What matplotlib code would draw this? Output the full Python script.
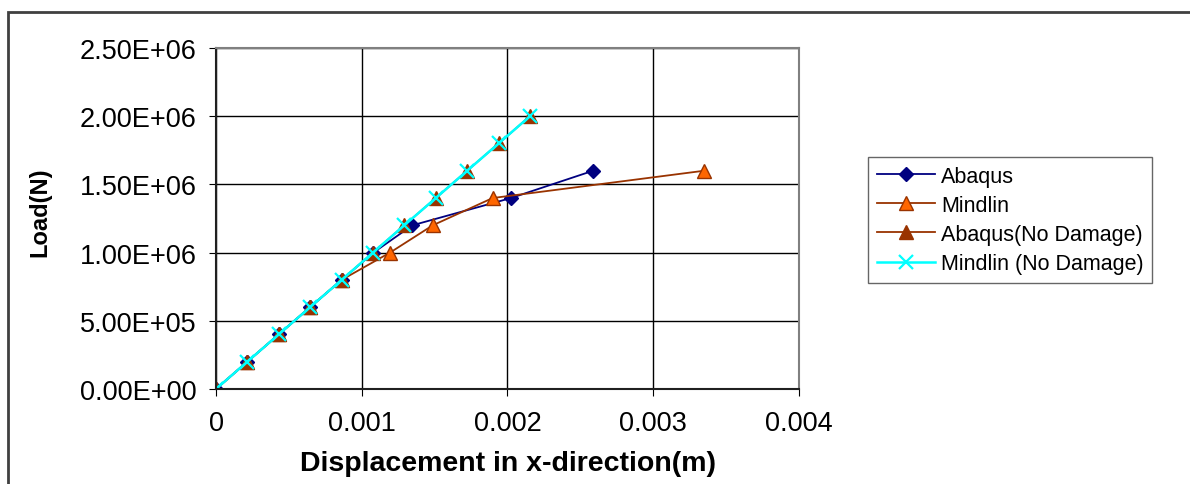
import matplotlib.pyplot as plt
from matplotlib.patches import Rectangle
from matplotlib.ticker import FuncFormatter

plt.rcParams['font.family'] = ['Liberation Sans', 'DejaVu Sans']

# load steps (N)
load = [0, 2e5, 4e5, 6e5, 8e5, 1e6, 1.2e6, 1.4e6, 1.6e6, 1.8e6, 2e6]
load_dmg = [0, 2e5, 4e5, 6e5, 8e5, 1e6, 1.2e6, 1.4e6, 1.6e6]

# displacements (m)
abaqus = [0, 0.000215, 0.00043, 0.000646, 0.000862, 0.00108, 0.001347, 0.002024, 0.002587]
mindlin = [0, 0.000215, 0.00043, 0.000646, 0.000862, 0.001194, 0.001487, 0.001898, 0.003348]
abaqus_nd = [0, 0.000215, 0.00043, 0.000646, 0.000862, 0.001077, 0.001292, 0.001508, 0.001723, 0.001939, 0.002154]
mindlin_nd = [0, 0.000215, 0.00043, 0.000646, 0.000862, 0.001077, 0.001292, 0.001508, 0.001723, 0.001939, 0.002154]

fig = plt.figure(figsize=(11.9, 4.85), dpi=100)
# outer chart frame
fig.patches.append(Rectangle((8/1190, -0.2), 1.2, 1.2 - 13/485, transform=fig.transFigure,
                             fill=False, edgecolor='#404040', linewidth=2))
ax = fig.add_axes([216/1190, 1 - 390/485, (799-216)/1190, (390-49)/485])

ax.plot(abaqus, load_dmg, color='#000080', marker='D', markersize=7, lw=1.3, label='Abaqus')
ax.plot(mindlin, load_dmg, color='#993300', marker='^', markersize=10, mfc='#FF6600', mec='#993300',
        lw=1.3, label='Mindlin')
ax.plot(abaqus_nd, load, color='#993300', marker='^', markersize=10, mfc='#993300', mec='#993300',
        lw=1.3, label='Abaqus(No Damage)')
ax.plot(mindlin_nd, load, color='#00FFFF', marker='x', markersize=10, mew=1.6, lw=1.8,
        label='Mindlin (No Damage)')

ax.set_xlim(0, 0.004)
ax.set_ylim(0, 2.5e6)
ax.set_xticks([0, 0.001, 0.002, 0.003, 0.004])
ax.set_xticklabels(['0', '0.001', '0.002', '0.003', '0.004'])
ax.set_yticks([0, 5e5, 1e6, 1.5e6, 2e6, 2.5e6])
ax.yaxis.set_major_formatter(FuncFormatter(lambda v, p: '%.2E' % v))
ax.tick_params(labelsize=19.5, direction='out', length=5, color='black')
ax.tick_params(axis='y', pad=9)
ax.tick_params(axis='x', pad=10)
ax.grid(True, color='black', lw=1)
ax.set_axisbelow(True)
for s in ['top', 'right']:
    ax.spines[s].set_color('#808080')
    ax.spines[s].set_linewidth(1.5)
for s in ['left', 'bottom']:
    ax.spines[s].set_color('#202020')
    ax.spines[s].set_linewidth(1.5)

ax.set_xlabel('Displacement in x-direction(m)', fontsize=20.5, fontweight='bold')
ax.xaxis.set_label_coords(0.501, -0.18)
ax.set_ylabel('Load(N)', fontsize=17, fontweight='bold')
ax.yaxis.set_label_coords(-0.282, 0.52)

leg = ax.legend(loc='upper left', bbox_to_anchor=(868/1190, 1 - 158/485), bbox_transform=fig.transFigure,
                fontsize=15.5, frameon=True, fancybox=False, edgecolor='#404040', borderpad=0.4,
                labelspacing=0.38, handlelength=2.7, handletextpad=0.3, borderaxespad=0)
leg.get_frame().set_linewidth(1)

fig.savefig('out.png', dpi=100)
